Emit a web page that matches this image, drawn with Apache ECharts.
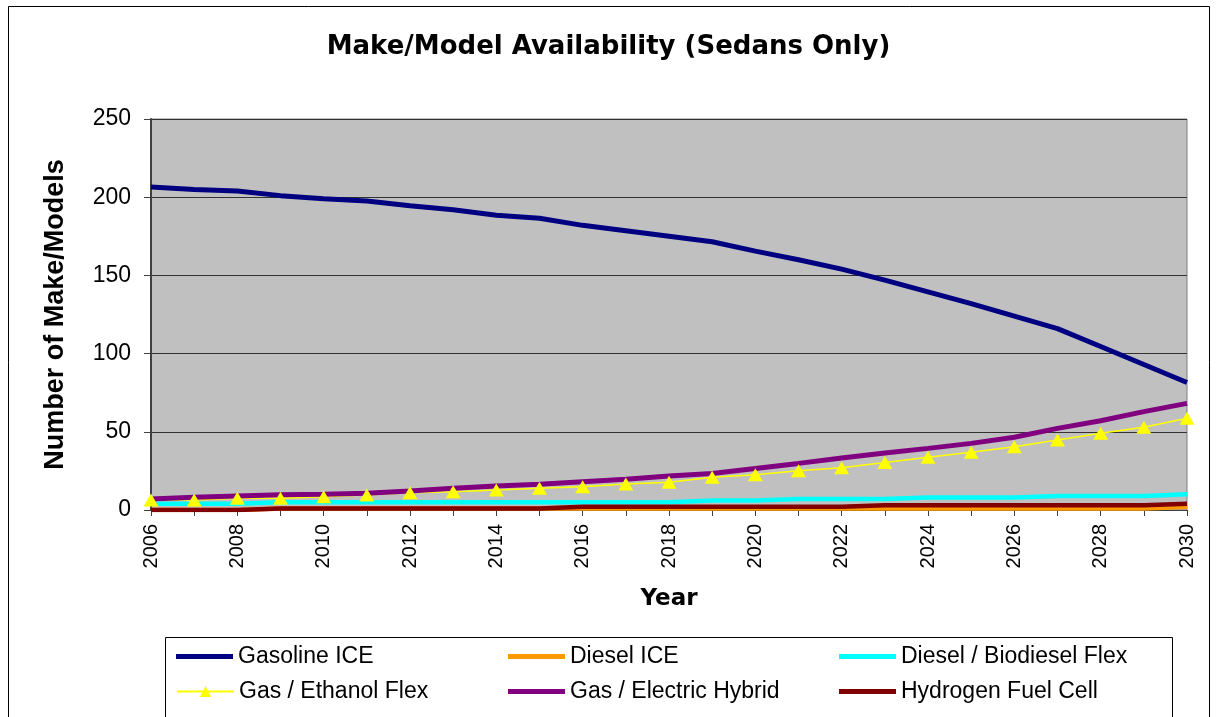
<!DOCTYPE html>
<html>
<head>
<meta charset="utf-8">
<script src="https://cdn.jsdelivr.net/npm/echarts@6/dist/echarts.min.js"></script>
<style>
html,body{margin:0;padding:0;background:#fff;}
#chart{width:1217px;height:717px;}
</style>
</head>
<body>
<div id="chart"></div>
<script>
var years = ['2006','2007','2008','2009','2010','2011','2012','2013','2014','2015','2016','2017','2018','2019','2020','2021','2022','2023','2024','2025','2026','2027','2028','2029','2030'];
var gasolineICE = [206.5,205,204,201,199,197.5,194.5,192,188.5,186.5,182,178.5,175,171.5,165.5,160,154,147,139.5,132,124,116,104.5,93,81.5];
var dieselICE = [0,0,0,1,1,1,1,1,1,1,1,1,1,1,1,1,1,1,1,1,1,1,1,1,2];
var dieselBiodieselFlex = [4,4,4,5,5,5,5,5,5,5,5,5,5,6,6,7,7,7,8,8,8,9,9,9,10];
var gasEthanolFlex = [6.4,6.4,7.5,7.5,8.5,9.6,11,11.7,12.8,13.9,14.9,16.6,17.8,20.9,22.6,25.1,27,30.3,33.7,37,40.5,44.7,49,52.9,58.6];
var gasElectricHybrid = [7,8.1,9,9.8,10.1,10.7,12.2,13.9,15.4,16.4,18.1,19.6,21.7,23.4,26.6,29.8,33.2,36.4,39.4,42.6,46.5,52.2,57.1,62.9,68.2];
var hydrogenFuelCell = [0,0,0,1,1,1,1,1,1,1,2,2,2,2,2,2,2,3,3,3,3,3,3,3,4];
var yTicks = [0,50,100,150,200,250];

var FONT = "'Liberation Sans', Arial, sans-serif";
var chart = echarts.init(document.getElementById('chart'), null, {renderer:'canvas'});

function lineSeries(name, data, color, width) {
  return {
    name: name, type: 'line', data: data,
    symbol: 'none', showSymbol: false,
    lineStyle: {color: color, width: width},
    itemStyle: {color: color},
    animation: false
  };
}

var series = [
  lineSeries('Gasoline ICE', gasolineICE, '#000080', 5),
  lineSeries('Diesel ICE', dieselICE, '#FF9900', 4.5),
  lineSeries('Diesel / Biodiesel Flex', dieselBiodieselFlex, '#00FFFF', 4.5),
  {
    name: 'Gas / Ethanol Flex', type: 'line', data: gasEthanolFlex,
    symbol: 'triangle', symbolSize: [15, 13], showSymbol: true,
    lineStyle: {color: '#FFFF00', width: 1.5},
    itemStyle: {color: '#FFFF00'},
    animation: false
  },
  lineSeries('Gas / Electric Hybrid', gasElectricHybrid, '#800080', 5),
  lineSeries('Hydrogen Fuel Cell', hydrogenFuelCell, '#800000', 4.5)
];

var legendCols = [176, 508, 839];
var legendRows = [645, 680];
var legendNames = ['Gasoline ICE','Diesel ICE','Diesel / Biodiesel Flex','Gas / Ethanol Flex','Gas / Electric Hybrid','Hydrogen Fuel Cell'];
var legendColors = ['#000080','#FF9900','#00FFFF',null,'#800080','#800000'];
var legends = legendNames.map(function(n, i){
  var lg = {
    data: [n], left: legendCols[i % 3], top: legendRows[Math.floor(i / 3)],
    padding: 0, itemWidth: 57, itemHeight: 14, itemGap: 0,
    textStyle: {fontFamily: FONT, fontSize: 23, color: '#000', padding: [0,0,0,0]},
    selectedMode: false
  };
  if (legendColors[i]) {
    lg.data = [{name: n, icon: 'path://M0,0 L57,0 L57,5 L0,5 Z', itemStyle: {color: legendColors[i]}}];
    lg.itemHeight = 5;
  }
  return lg;
});

chart.setOption({
  animation: false,
  backgroundColor: '#ffffff',
  title: {
    text: 'Make/Model Availability (Sedans Only)',
    left: 'center', top: 29,
    textStyle: {fontFamily: "'DejaVu Sans', sans-serif", fontSize: 26, fontWeight: 'bold', color: '#000'}
  },
  legend: legends,
  grid: {
    left: 151, right: 30, top: 119, bottom: 207,
    show: true, backgroundColor: '#C0C0C0', borderColor: '#808080', borderWidth: 1,
    containLabel: false
  },
  xAxis: {
    type: 'category', data: years, boundaryGap: false,
    name: 'Year', nameLocation: 'middle', nameGap: 78,
    nameTextStyle: {fontFamily: "'DejaVu Sans', sans-serif", fontSize: 23, fontWeight: 'bold', color: '#000'},
    axisLine: {show: true, lineStyle: {color: '#404040', width: 1}},
    axisTick: {show: true, interval: 0, length: 6, lineStyle: {color: '#404040'}},
    axisLabel: {interval: 1, rotate: 90, margin: 14, fontFamily: FONT, fontSize: 20, color: '#000'},
    splitLine: {show: false}
  },
  yAxis: {
    type: 'value', min: 0, max: 250, interval: 50,
    name: 'Number of Make/Models', nameLocation: 'middle', nameGap: 82, nameRotate: 90,
    nameTextStyle: {fontFamily: FONT, fontSize: 27, fontWeight: 'bold', color: '#000'},
    axisLine: {show: true, lineStyle: {color: '#404040', width: 2}},
    axisTick: {show: true, length: 7, lineStyle: {color: '#404040'}},
    axisLabel: {margin: 20, fontFamily: FONT, fontSize: 23, color: '#000',
      formatter: function(v){ return yTicks.indexOf(v) >= 0 ? String(v) : ''; }},
    splitLine: {show: true, lineStyle: {color: '#333333', width: 1}}
  },
  graphic: [
    {type: 'rect', silent: true, z: -1, shape: {x: 8.5, y: 6.5, width: 1201, height: 730},
      style: {fill: 'none', stroke: '#000', lineWidth: 1}},
    {type: 'rect', silent: true, z: -1, shape: {x: 165.5, y: 637.5, width: 1007, height: 100},
      style: {fill: 'none', stroke: '#000', lineWidth: 1}}
  ],
  series: series
});
</script>
</body>
</html>
